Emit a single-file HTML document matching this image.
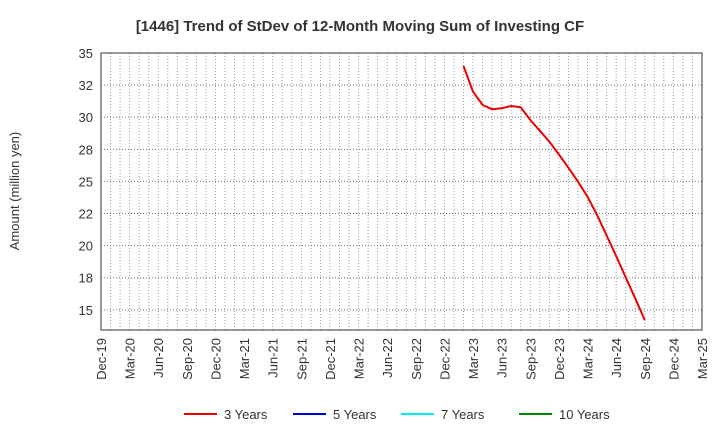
<!DOCTYPE html>
<html><head><meta charset="utf-8"><style>
body{margin:0;background:#fff;font-family:"Liberation Sans",sans-serif;}
svg text{font-family:"Liberation Sans",sans-serif;fill:#333;}
</style></head><body>
<svg width="720" height="440" xmlns="http://www.w3.org/2000/svg">
<text x="360" y="31" text-anchor="middle" font-size="15" font-weight="bold">[1446]  Trend of StDev of 12-Month Moving Sum of Investing CF</text>
<text transform="translate(19,191) rotate(-90)" text-anchor="middle" font-size="13">Amount (million yen)</text>
<g id="grid"></g><g id="axes"></g><g id="series"></g>
<g id="legend"></g>
</svg>
<script>
const monthLabels=["Dec-19","Mar-20","Jun-20","Sep-20","Dec-20","Mar-21","Jun-21","Sep-21","Dec-21","Mar-22","Jun-22","Sep-22","Dec-22","Mar-23","Jun-23","Sep-23","Dec-23","Mar-24","Jun-24","Sep-24","Dec-24","Mar-25"];
const yTicks=[35,32.5,30,27.5,25,22.5,20,17.5,15];
const yTickLabels=["35","32","30","28","25","22","20","18","15"];
const seriesStartMonth=38; // Feb-23, months from Dec-19
const values3y=[33.99,31.99,30.95,30.62,30.69,30.87,30.77,29.78,28.95,28.09,27.1,26.07,24.98,23.81,22.38,20.8,19.2,17.53,15.9,14.2];
const legendNames=["3 Years","5 Years","7 Years","10 Years"];
const legendColors=["#e00","#00c","#0ee","#080"];

const L=101,R=702,T=53,B=330,totalMonths=63,yMax=35,yMin=13.43;
const xs=m=>L+(R-L)*m/totalMonths;
const ys=v=>T+(yMax-v)/(yMax-yMin)*(B-T);
const NS="http://www.w3.org/2000/svg";
function mk(tag,attrs,parent){const e=document.createElementNS(NS,tag);for(const k in attrs)e.setAttribute(k,attrs[k]);document.getElementById(parent).appendChild(e);return e;}
for(let m=1;m<totalMonths;m++){
 const g=mk('line',{x1:xs(m),x2:xs(m),y1:T,y2:B,stroke:'#999','stroke-dasharray':'1,2','stroke-width':1},'grid');
 
 
}
yTicks.forEach((v,i)=>{
 const g=mk('line',{x1:L,x2:R,y1:ys(v),y2:ys(v),stroke:'#777','stroke-dasharray':'1,2','stroke-width':1},'grid');
 
 
 const t=mk('text',{x:L-8,y:ys(v)+5,'text-anchor':'end','font-size':13},'axes');
 t.textContent=yTickLabels[i];
 
 
});
const fr=mk('rect',{x:L,y:T,width:R-L,height:B-T,fill:'none',stroke:'#333','stroke-width':1},'axes');


monthLabels.forEach((s,i)=>{
 const x=xs(i*3);
 const t=mk('text',{transform:`translate(${x+5},338) rotate(-90)`,'text-anchor':'end','font-size':13},'axes');
 t.textContent=s;
 
 
});
const pts=values3y.map((v,i)=>xs(seriesStartMonth+i).toFixed(1)+','+ys(v).toFixed(1)).join(' ');
const pl=mk('polyline',{points:pts,fill:'none',stroke:'#e00','stroke-width':2},'series');


const lx=[184,293,401,519];
legendNames.forEach((n,i)=>{
 const l=mk('line',{x1:lx[i],x2:lx[i]+33,y1:414,y2:414,stroke:legendColors[i],'stroke-width':2},'legend');
 
 
 const t=mk('text',{x:lx[i]+40,y:419,'font-size':13},'legend');
 t.textContent=n;
 
 
});
</script>
</body></html>
